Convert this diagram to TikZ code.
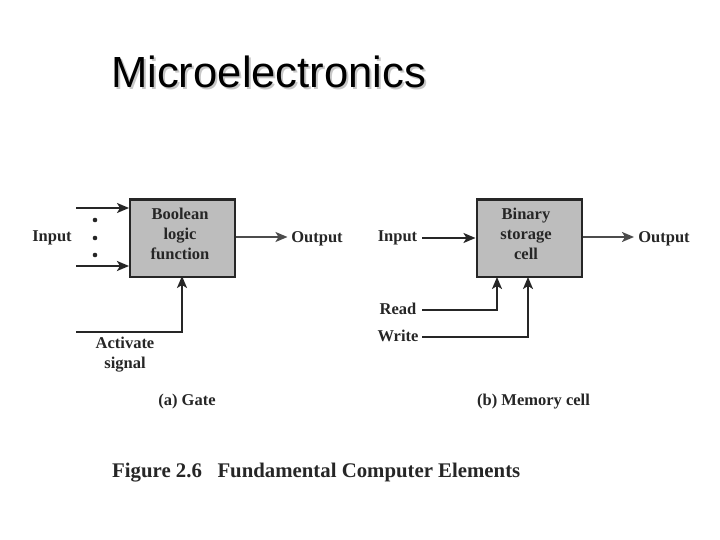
\documentclass[tikz,border=0pt]{standalone}
\usepackage{fontspec}
\setmainfont{Liberation Serif}
\newfontfamily\titlefont{Liberation Sans}
\usetikzlibrary{arrows.meta}
\tikzset{
  x=1pt,y=-1pt,
  lbl/.style={inner sep=0pt,anchor=base,font=\fontsize{16.5}{19}\selectfont\bfseries,text=black!85},
  fig/.style={inner sep=0pt,anchor=base west,font=\fontsize{20.8}{24}\selectfont\bfseries,text=black!85},
  block/.style={draw=black!85,line width=2.4pt,fill=black!26,inner sep=0pt,minimum width=105pt,minimum height=77pt,anchor=north west},
  conn/.style={draw=black!85,line width=1.8pt,-{Stealth[length=12pt,width=10pt,inset=3pt]}},
  heavy/.style={conn,line width=2.4pt},
  dotmark/.style={circle,fill=black!85,inner sep=0pt,minimum size=4.6pt},
  ttl/.style={inner sep=0pt,anchor=base west,font=\fontsize{43.6}{50}\titlefont},
}
\begin{document}
\begin{tikzpicture}
\useasboundingbox (0,0) rectangle (720,540);
\fill[white] (0,0) rectangle (720,540);
% title
\node[ttl,text=black!22] (titleshadow) at (113,90) {Microelectronics};
\node[ttl,text=black] (title) at (111,88) {Microelectronics};
% blocks
\node[block] (gate) at (129,198.5) {};
\node[block] (mem) at (475.5,198.5) {};
\node[lbl] (g1) at (180,220) {Boolean};
\node[lbl] (g2) at (180,239.5) {logic};
\node[lbl] (g3) at (180,259) {function};
\node[lbl] (m1) at (526,220) {Binary};
\node[lbl] (m2) at (526,239.5) {storage};
\node[lbl] (m3) at (526,259) {cell};
% gate labels
\node[lbl] (ginput) at (52,241) {Input};
\node[lbl] (goutput) at (317,242) {Output};
\node[lbl] (act1) at (125,348) {Activate};
\node[lbl] (act2) at (125,368) {signal};
\node[lbl] (capa) at (187,405) {(a) Gate};
\node[dotmark] (d1) at (95,220) {};
\node[dotmark] (d2) at (95,238) {};
\node[dotmark] (d3) at (95,255) {};
% memory labels
\node[lbl] (minput) at (397.5,241) {Input};
\node[lbl] (moutput) at (664,242) {Output};
\node[lbl] (mread) at (398,314) {Read};
\node[lbl] (mwrite) at (398,341) {Write};
\node[lbl] (capb) at (533.5,405) {(b) Memory cell};
\node[fig] (figcap) at (112,477) {Figure 2.6\hspace{0.5em} Fundamental Computer Elements};
% free ends
\coordinate (i1) at (76,208);
\coordinate (i2) at (76,266);
\coordinate (gout) at (287.5,237);
\coordinate (as) at (76,332);
\coordinate (mi) at (422,238);
\coordinate (mout) at (634,237);
\coordinate (mr) at (422,310);
\coordinate (mw) at (422,337);
% connectors
\draw[conn] (i1) -- (i1 -| gate.west);
\draw[heavy] (i2) -- (i2 -| gate.west);
\draw[conn,draw=black!70] (gout -| gate.east) -- (gout);
\draw[conn] (as) -| (182,276);
\draw[conn] (mi) -- (mi -| mem.west);
\draw[conn,draw=black!70] (mout -| mem.east) -- (mout);
\draw[conn] (mr) -| (497,277);
\draw[conn] (mw) -| (528,277);
\end{tikzpicture}
\end{document}
